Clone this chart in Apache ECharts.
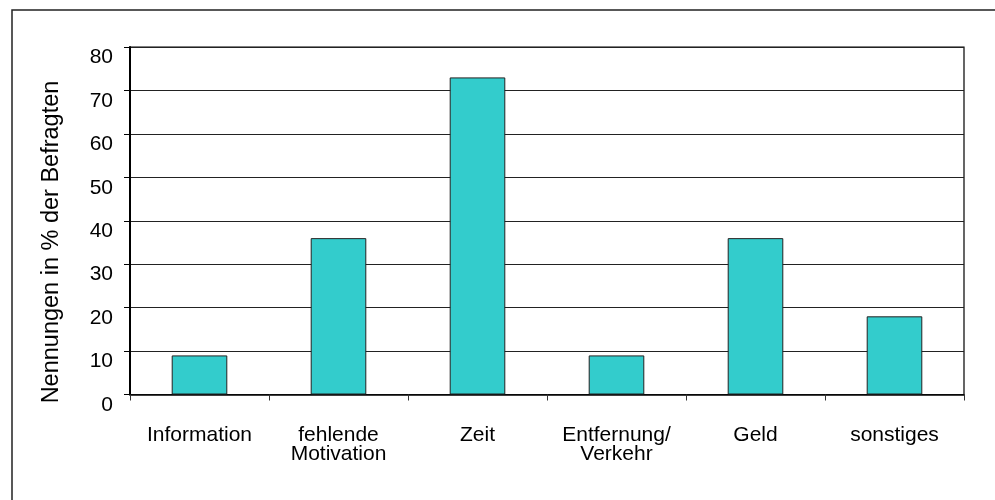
<!DOCTYPE html>
<html>
<head>
<meta charset="utf-8">
<script src="https://cdn.jsdelivr.net/npm/echarts@6/dist/echarts.min.js"></script>
<style>html,body{margin:0;padding:0;background:#fff}#c{width:995px;height:500px}</style>
</head>
<body>
<div id="c"></div>
<script>
const categories = ['Information', 'fehlende\nMotivation', 'Zeit', 'Entfernung/\nVerkehr', 'Geld', 'sonstiges'];
const values = [9, 36, 73, 9, 36, 18];
const yAxisName = 'Nennungen in % der Befragten';

const FONT = '"Liberation Sans", Arial, sans-serif';
const chart = echarts.init(document.getElementById('c'), null, {renderer: 'canvas'});
chart.setOption({
  animation: false,
  backgroundColor: '#fff',
  grid: {left: 130, right: 31, top: 47, bottom: 105.5, show: true, borderColor: '#000', borderWidth: 1.2},
  graphic: [
    {type: 'rect', shape: {x: 12, y: 10, width: 1100, height: 700}, style: {fill: 'none', stroke: '#222', lineWidth: 1.5}, silent: true},
    {type: 'text', x: 52, y: 242, rotation: Math.PI / 2,
     style: {text: yAxisName, font: '23.5px ' + FONT, fill: '#000', textAlign: 'center', textVerticalAlign: 'middle'}}
  ],
  xAxis: {
    type: 'category',
    data: categories,
    axisLine: {lineStyle: {color: '#000', width: 1.5}},
    axisTick: {show: true, length: 6, lineStyle: {color: '#333', width: 1}},
    axisLabel: {color: '#000', fontSize: 21, fontFamily: FONT, margin: 31, lineHeight: 19, interval: 0}
  },
  yAxis: {
    type: 'value',
    min: 0, max: 80, interval: 10,
    axisLine: {show: true, lineStyle: {color: '#000', width: 2}},
    axisTick: {show: true, length: 6, lineStyle: {color: '#000', width: 1}},
    axisLabel: {color: '#000', fontSize: 21, fontFamily: FONT, margin: 17, verticalAlign: 'top'},
    splitLine: {show: true, lineStyle: {color: '#222', width: 1}}
  },
  series: [{
    type: 'bar',
    data: values,
    barWidth: '40%',
    itemStyle: {color: '#33CCCC', borderColor: '#222', borderWidth: 1}
  }]
});
</script>
</body>
</html>
